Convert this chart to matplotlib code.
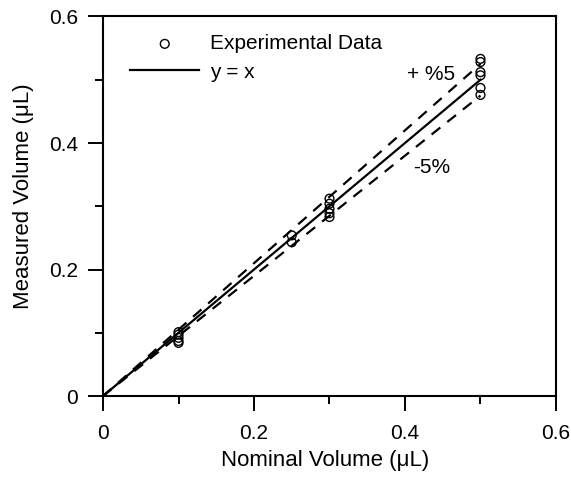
import numpy as np
import matplotlib
matplotlib.use('Agg')
import matplotlib.pyplot as plt
from matplotlib.ticker import MultipleLocator

plt.rcParams['font.family'] = ['Liberation Sans', 'DejaVu Sans']

nominal = [0.1, 0.1, 0.1, 0.1, 0.1,
           0.25, 0.25,
           0.3, 0.3, 0.3, 0.3, 0.3,
           0.5, 0.5, 0.5, 0.5, 0.5, 0.5]
measured = [0.101, 0.097, 0.092, 0.087, 0.084,
            0.254, 0.243,
            0.312, 0.304, 0.296, 0.289, 0.283,
            0.533, 0.528, 0.512, 0.507, 0.487, 0.476]

line_x = [0, 0.5]
upper = 1.05
lower = 0.95

fig = plt.figure(figsize=(5.71, 4.78), dpi=100)
ax = fig.add_axes([0.1804, 0.1715, 0.7933, 0.794])

ax.plot(line_x, line_x, color='black', lw=1.6, label='y = x')
ax.plot(line_x, [v * upper for v in line_x], color='black', lw=1.6, ls=(0, (5, 4)))
ax.plot(line_x, [v * lower for v in line_x], color='black', lw=1.6, ls=(0, (5, 4)))
ax.scatter(nominal, measured, s=40, facecolors='none', edgecolors='black',
           linewidths=1.0, label='Experimental Data', zorder=3)

ax.text(0.402, 0.508, '+ %5', fontsize=15, ha='left', va='center')
ax.text(0.411, 0.361, '-5%', fontsize=15, ha='left', va='center')

ax.set_xlim(0, 0.6)
ax.set_ylim(0, 0.6)
ax.set_xticks([0, 0.2, 0.4, 0.6])
ax.set_xticklabels(['0', '0.2', '0.4', '0.6'])
ax.set_yticks([0, 0.2, 0.4, 0.6])
ax.set_yticklabels(['0', '0.2', '0.4', '0.6'])
ax.xaxis.set_minor_locator(MultipleLocator(0.1))
ax.yaxis.set_minor_locator(MultipleLocator(0.1))
ax.tick_params(which='major', direction='out', length=11, width=1.4, labelsize=15)
ax.tick_params(which='minor', direction='out', length=6, width=1.4)
ax.tick_params(axis='x', which='major', pad=9)
ax.tick_params(axis='y', which='major', pad=7)
for s in ax.spines.values():
    s.set_linewidth(1.5)

ax.set_xlabel('Nominal Volume (\u03bcL)', fontsize=16)
ax.set_ylabel('Measured Volume (\u03bcL)', fontsize=16)
ax.xaxis.set_label_coords(0.49, -0.142)
ax.yaxis.set_label_coords(-0.152, 0.526)

handles, labels = ax.get_legend_handles_labels()
ax.legend(handles[::-1], labels[::-1], loc='upper left', bbox_to_anchor=(0.042, 0.975),
          frameon=False, fontsize=15, handlelength=3.3, handletextpad=0.5,
          labelspacing=0.45, borderaxespad=0)

fig.savefig('out.png', dpi=100)
